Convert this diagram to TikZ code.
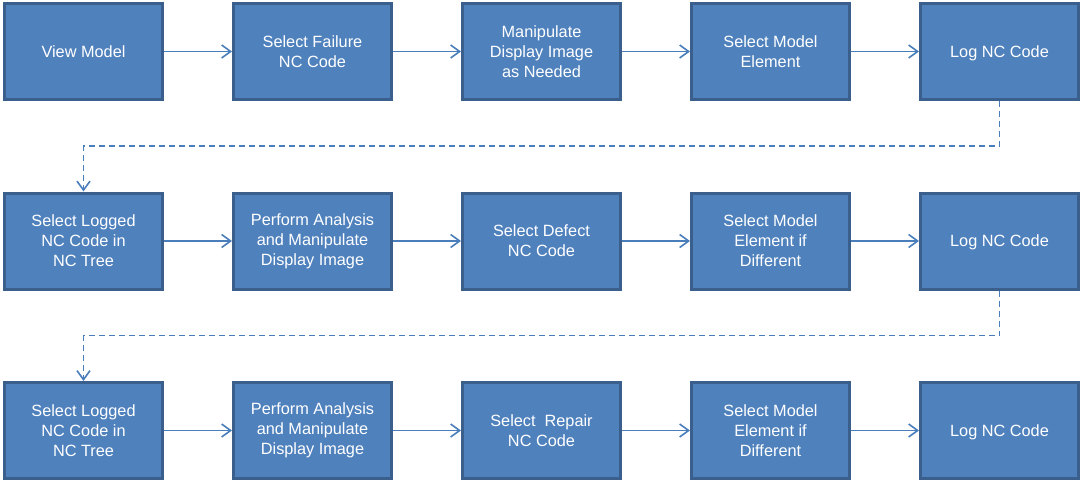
\documentclass[tikz,border=0pt]{standalone}
\usepackage{fontspec}
\setmainfont{Liberation Sans}
\usetikzlibrary{arrows.meta}
\definecolor{boxfill}{HTML}{4F81BD}
\definecolor{boxline}{HTML}{3A5F8C}
\definecolor{linkcol}{HTML}{4A7EBB}
\begin{document}
\begin{tikzpicture}[x=1pt,y=-1pt,
  stepbox/.style={draw=boxline, line width=3pt, fill=boxfill,
    minimum width=158pt, minimum height=96pt, inner sep=0pt,
    text=white, align=center, font=\fontsize{16.3}{20}\selectfont},
  oneline/.style={stepbox, text depth=0pt},
  link/.style={draw=linkcol, line width=1.6pt,
    -{Straight Barb[length=9pt,width=13pt,line width=1.6pt]}},
  dashlink/.style={link, dash pattern=on 6pt off 4pt}]
\useasboundingbox (0,0) rectangle (1081,484);
% row 1
\node[oneline] (a1) at (83.5,51.5) {View Model};
\node[stepbox] (a2) at (312.5,51.5) {Select Failure\\NC Code};
\node[stepbox] (a3) at (541.5,51.5) {Manipulate\\Display Image\\as Needed};
\node[stepbox] (a4) at (770.5,51.5) {Select Model\\Element};
\node[oneline] (a5) at (999.5,51.5) {Log NC Code};
% row 2
\node[stepbox] (b1) at (83.5,241) {Select Logged\\NC Code in\\NC Tree};
\node[stepbox] (b2) at (312.5,241) {Perform Analysis\\and Manipulate\\Display Image};
\node[stepbox] (b3) at (541.5,241) {Select Defect\\NC Code};
\node[stepbox] (b4) at (770.5,241) {Select Model\\Element if\\Different};
\node[oneline] (b5) at (999.5,241) {Log NC Code};
% row 3
\node[stepbox] (c1) at (83.5,430.5) {Select Logged\\NC Code in\\NC Tree};
\node[stepbox] (c2) at (312.5,430.5) {Perform Analysis\\and Manipulate\\Display Image};
\node[stepbox] (c3) at (541.5,430.5) {Select~ Repair\\NC Code};
\node[stepbox] (c4) at (770.5,430.5) {Select Model\\Element if\\Different};
\node[oneline] (c5) at (999.5,430.5) {Log NC Code};
% arrows within rows
\foreach \r in {a,b,c}{
  \draw[link] (\r1) -- (\r2);
  \draw[link] (\r2) -- (\r3);
  \draw[link] (\r3) -- (\r4);
  \draw[link] (\r4) -- (\r5);
}
% dashed returns between rows
\draw[dashlink] (a5.south) -- ++(0,45) -| (b1.north);
\draw[dashlink] (b5.south) -- ++(0,45) -| (c1.north);
\end{tikzpicture}
\end{document}
